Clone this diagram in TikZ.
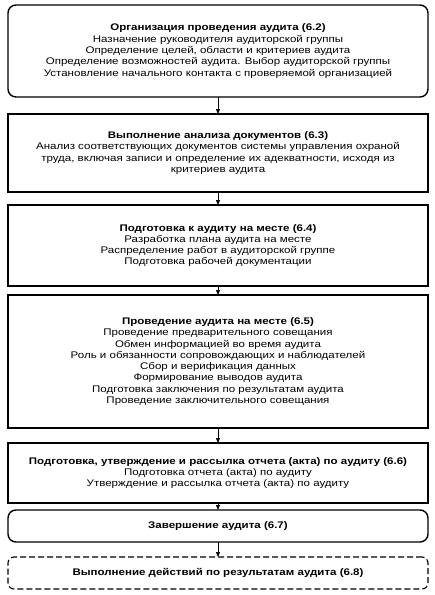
\documentclass[tikz,border=0pt]{standalone}
\usepackage{fontspec}
\setmainfont{Liberation Sans}[FakeStretch=1.2]
\usetikzlibrary{arrows.meta,positioning}

\begin{document}
\begin{tikzpicture}[
  x=1pt, y=1pt,
  node distance=15pt,
  stage/.style={draw=black, line width=1.4pt, fill=white, outer sep=0pt,
                font=\fontsize{9.6}{11.3}\selectfont, align=center,
                minimum width=420pt, inner sep=2pt},
  roundstage/.style={stage, rounded corners=8pt},
  followup/.style={stage, rounded corners=6pt, line width=1.1pt,
                   dash pattern=on 6pt off 3pt},
  arr/.style={-{Triangle[length=5pt,width=4pt]}, line width=0.7pt},
]
\useasboundingbox (0,0) rectangle (435,-595);

%% Audit stages, top to bottom
\node[roundstage, minimum height=92pt] (org) at (218,-51)
  {\textbf{Организация проведения аудита (6.2)}\\
   Назначение руководителя аудиторской группы\\
   Определение целей, области и критериев аудита\\
   Определение возможностей аудита. Выбор аудиторской группы\\
   Установление начального контакта с проверяемой организацией};
\node[stage, minimum height=78pt, below=17pt of org] (docs)
  {\textbf{Выполнение анализа документов (6.3)}\\
   Анализ соответствующих документов системы управления охраной\\
   труда, включая записи и определение их адекватности, исходя из\\
   критериев аудита};
\node[stage, minimum height=81pt, below=13pt of docs] (prep)
  {\textbf{Подготовка к аудиту на месте (6.4)}\\
   Разработка плана аудита на месте\\
   Распределение работ в аудиторской группе\\
   Подготовка рабочей документации};
\node[stage, minimum height=133pt, below=9pt of prep] (site)
  {\textbf{Проведение аудита на месте (6.5)}\\
   Проведение предварительного совещания\\
   Обмен информацией во время аудита\\
   Роль и обязанности сопровождающих и наблюдателей\\
   Сбор и верификация данных\\
   Формирование выводов аудита\\
   Подготовка заключения по результатам аудита\\
   Проведение заключительного совещания};
\node[stage, minimum height=60pt, below=15pt of site] (report)
  {\textbf{Подготовка, утверждение и рассылка отчета (акта) по аудиту (6.6)}\\
   Подготовка отчета (акта) по аудиту\\
   Утверждение и рассылка отчета (акта) по аудиту};
\node[roundstage, minimum height=32pt, below=7pt of report] (close)
  {\textbf{Завершение аудита (6.7)}};
\node[followup, minimum height=32pt, below=15pt of close] (actions)
  {\textbf{Выполнение действий по результатам аудита (6.8)}};

%% Arrows between stages
\draw[arr] (org) -- (docs);
\draw[arr] (docs) -- (prep);
\draw[arr] (prep) -- (site);
\draw[arr] (site) -- (report);
\draw[arr] (report) -- (close);
\draw[arr] (close) -- (actions);

\end{tikzpicture}
\end{document}
